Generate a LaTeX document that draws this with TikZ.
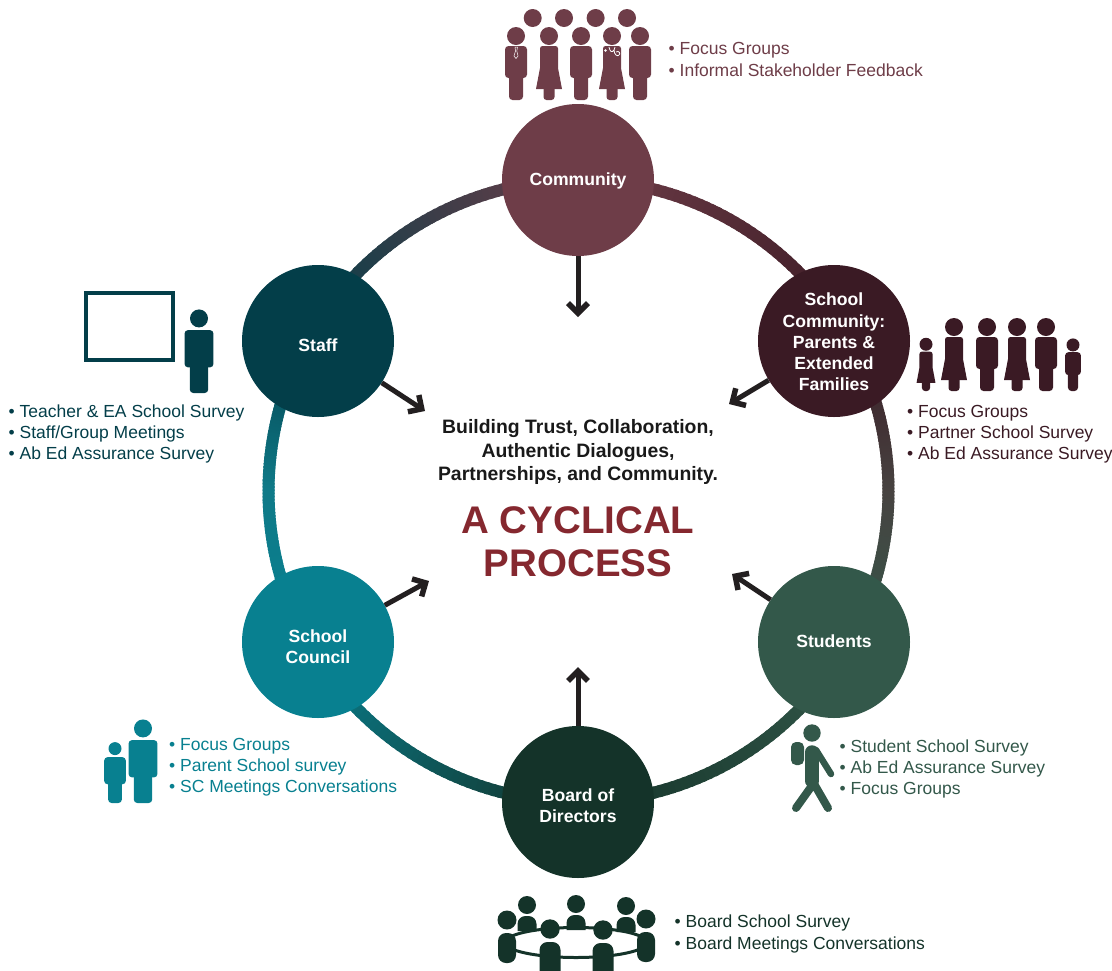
\documentclass[tikz,border=0pt]{standalone}
\usepackage{fontspec}
\setmainfont{Liberation Sans}
\usetikzlibrary{arrows.meta,calc}

\definecolor{commcol}{HTML}{6E3D48}
\definecolor{parcol}{HTML}{3A1A24}
\definecolor{studcol}{HTML}{33584A}
\definecolor{boardcol}{HTML}{143329}
\definecolor{councol}{HTML}{088090}
\definecolor{staffcol}{HTML}{033E49}
\definecolor{titlecol}{HTML}{85282F}
\definecolor{arrcol}{HTML}{231F20}
\definecolor{leftmid}{HTML}{0F7A88}
\definecolor{rightmid}{HTML}{474341}

\newcommand{\hubn}[1]{\node[circle, fill=#1, minimum size=152pt, inner sep=0pt, align=center, text=white, font=\fontsize{17.6}{21.3}\selectfont\bfseries]}
\newcommand{\listn}[1]{\node[anchor=west, align=left, inner sep=0pt, text=#1, font=\fontsize{17.5}{21.3}\selectfont]}
\newcommand{\hubtxt}[2]{\raisebox{#1}[0pt][0pt]{\begin{tabular}{@{}c@{}}#2\end{tabular}}}
\newcommand{\ringseg}[4]{
    \foreach \p [evaluate=\p as \a using #1+(#2-#1)*\p/100, evaluate=\p as \b using #1+(#2-#1)*(\p+3)/100] in {0,2,...,98}
        \draw[line width=12pt, draw=#4!\p!#3] ($(ctr)+(\a:310 and 311)$) -- ($(ctr)+(\b:310 and 311)$);
}
\newcommand{\manfig}[6]{
    \begin{scope}[shift={(#2,#3)}, fill=#1]
        \fill (0,-64*#4) circle[radius=#6pt];
        \fill[rounded corners=3.5pt] (-11*#4*#5,-54*#4) rectangle (11*#4*#5,-22*#4);
        \fill[rounded corners=3.5pt] (-7*#4*#5,-30*#4) rectangle (7*#4*#5,0);
    \end{scope}
}
\newcommand{\womanfig}[5]{
    \begin{scope}[shift={(#2,#3)}, fill=#1]
        \fill (0,-64*#4) circle[radius=#5pt];
        \fill (-13*#4,-11*#4) -- (-9*#4,-32*#4) [rounded corners=2.5pt] -- (-9*#4,-54*#4) -- (9*#4,-54*#4) [sharp corners] -- (9*#4,-32*#4) -- (13*#4,-11*#4) -- cycle;
        \fill[rounded corners=3pt] (-5.5*#4,-18*#4) rectangle (5.5*#4,0);
    \end{scope}
}

\begin{document}
\begin{tikzpicture}[x=1pt, y=-1pt]
    \useasboundingbox (0,0) rectangle (1112,970);
    \coordinate (ctr) at (578.5,491);

    \ringseg{-90}{-30}{commcol}{parcol}
    \ringseg{-30}{0}{parcol}{rightmid}
    \ringseg{0}{30}{rightmid}{studcol}
    \ringseg{30}{90}{studcol}{boardcol}
    \ringseg{90}{150}{boardcol}{councol}
    \ringseg{150}{180}{councol}{leftmid}
    \ringseg{180}{210}{leftmid}{staffcol}
    \ringseg{210}{270}{staffcol}{commcol}

    \hubn{commcol} (comm) at (578,180) {\hubtxt{-5.4pt}{Community}};
    \hubn{parcol} (par) at (834,341) {\hubtxt{-7.4pt}{School\\Community:\\Parents \&\\Extended\\Families}};
    \hubn{studcol} (stud) at (834,642) {\hubtxt{-5.4pt}{Students}};
    \hubn{boardcol} (board) at (578,802) {\hubtxt{-10pt}{Board of\\Directors}};
    \hubn{councol} (coun) at (318,642) {\hubtxt{-11pt}{School\\Council}};
    \hubn{staffcol} (staff) at (318,341) {\hubtxt{-10.4pt}{Staff}};

    \coordinate (commend) at (578,317);
    \coordinate (parend) at (729,404);
    \coordinate (studend) at (732,574);
    \coordinate (boardend) at (578,667);
    \coordinate (counend) at (429,581);
    \coordinate (staffend) at (425,411);

    \foreach \hb/\he in {comm/commend,par/parend,stud/studend,board/boardend,coun/counend,staff/staffend}
        \draw[line width=5pt, draw=arrcol, -{Straight Barb[length=10pt, width=20pt, line width=5.5pt]}] (\hb) -- (\he);

    \node[align=center, inner sep=0pt, font=\fontsize{19.4}{23.5}\selectfont\bfseries, text=black!90] (build) at (578,452) {Building Trust, Collaboration,\\Authentic Dialogues,\\Partnerships, and Community.};
    \node[align=center, inner sep=0pt, font=\fontsize{38.5}{43}\selectfont\bfseries, text=titlecol] (cycle) at (578,542) {A CYCLICAL\\PROCESS};

    \listn{commcol} (commlist) at (668.5,59.5) {• Focus Groups\\• Informal Stakeholder Feedback};
    \listn{parcol} (parlist) at (907,434) {• Focus Groups\\• Partner School Survey\\• Ab Ed Assurance Survey};
    \listn{studcol} (studlist) at (839.5,769) {• Student School Survey\\• Ab Ed Assurance Survey\\• Focus Groups};
    \listn{boardcol} (boardlist) at (674.5,934) {• Board School Survey\\• Board Meetings Conversations};
    \listn{councol} (counlist) at (169,767) {• Focus Groups\\• Parent School survey\\• SC Meetings Conversations};
    \listn{staffcol} (stafflist) at (8.5,434) {• Teacher \& EA School Survey\\• Staff/Group Meetings\\• Ab Ed Assurance Survey};

    \foreach \hx in {532.7,564,595.6,627}
        \fill[commcol] (\hx,18) circle[radius=9pt];
    \manfig{commcol}{516}{100}{1}{1}{9}
    \womanfig{commcol}{549}{100}{1}{9}
    \manfig{commcol}{581}{100}{1}{1}{9}
    \womanfig{commcol}{612}{100}{1}{9}
    \manfig{commcol}{640}{100}{1}{1}{9}
    \draw[white, line width=0.5pt] (515,47) -- (517.5,47) -- (516.8,51) -- (518,56) -- (516,58.5) -- (514,56) -- (515.5,51) -- cycle;
    \draw[white, line width=0.8pt] (609,47) .. controls (610,52) and (612,53) .. (614,50) (615,47) -- (614,50) (614,50) .. controls (614,55) and (618,57) .. (619,55) (619,55) .. controls (621,54) and (619,50) .. (616,52);
    \fill[white] (605.5,50.5) circle[radius=1.3pt];

    \womanfig{parcol}{926}{391}{0.73}{6.5}
    \womanfig{parcol}{954}{391}{1}{9}
    \manfig{parcol}{987}{391}{1}{1}{9}
    \womanfig{parcol}{1017}{391}{1}{9}
    \manfig{parcol}{1046}{391}{1}{1}{9}
    \manfig{parcol}{1073}{391}{0.72}{1}{6.5}

    \draw[staffcol, line width=3.6pt] (86,293) rectangle (173,360);
    \manfig{staffcol}{199}{393}{1.165}{1.13}{9}

    \manfig{councol}{143}{803}{1.165}{1.13}{9}
    \manfig{councol}{115}{803}{0.85}{1.16}{6.5}

    \fill[studcol] (812,733) circle[radius=8.7pt];
    \fill[studcol, rounded corners=5pt] (791,742) rectangle (804,765);
    \draw[studcol, line width=13.5pt, line cap=round] (812,752) -- (812,781);
    \draw[studcol, line width=6.5pt, line cap=round] (816,750) -- (831,774);
    \draw[studcol, line width=8pt, line cap=round]
        (813,782) -- (828,808)
        (811,787) -- (796,808)
        ;

    \draw[boardcol, line width=3pt] (576,942.5) ellipse[x radius=71pt, y radius=15pt];
    \foreach \hx/\hy in {527/905,576/904,626/906}{
        \fill[boardcol] (\hx,\hy) circle[radius=9pt];
        \fill[boardcol, rounded corners=8pt] (\hx-9.5,\hy+26) -- (\hx-9.5,\hy+11) -- (\hx+9.5,\hy+11) -- (\hx+9.5,\hy+26);
    }
    \foreach \hx/\hy in {507/920,646/919}{
        \fill[boardcol] (\hx,\hy) circle[radius=9.5pt];
        \fill[boardcol, rounded corners=8pt] (\hx-9,\hy+13) rectangle (\hx+9,\hy+43);
    }
    \foreach \hx/\hy in {550/929,603/930}{
        \fill[boardcol] (\hx,\hy) circle[radius=9.7pt];
        \fill[boardcol, rounded corners=8pt] (\hx-10.5,\hy+13) rectangle (\hx+10.5,\hy+50);
    }
\end{tikzpicture}
\end{document}
